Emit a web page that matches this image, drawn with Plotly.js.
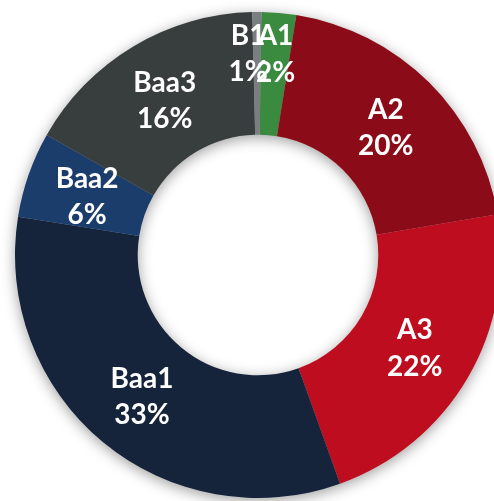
<!DOCTYPE html>
<html>
<head>
<meta charset="utf-8">
<script src="https://cdn.plot.ly/plotly-3.0.1.min.js"></script>
<style>
  html, body { margin: 0; padding: 0; background: #ffffff; overflow: hidden; width: 494px; height: 501px; }
  #chart { width: 516px; height: 501px; filter: drop-shadow(0px 3px 7px rgba(0,0,0,0.38)); }
</style>
</head>
<body>
<div id="chart"></div>
<script>
const ratings = ["A1", "A2", "A3", "Baa1", "Baa2", "Baa3", "B1"];
const shares = [2.3, 19.8, 22.2, 33.0, 5.7, 16.4, 0.6];
const sliceColors = ["#3a8a3f", "#8b0c18", "#be0d1f", "#15243b", "#1b3d6b", "#383d3e", "#7a7e80"];

const tmpl = "%{label}<br>%{percent:.0%}";
const font = { family: "Lato, 'Open Sans', sans-serif", size: 28, color: "#ffffff", weight: "bold" };
const ROT = 0.8;

// labels of the wide slices sit on the ring itself; the narrow ones are carried by
// transparent, slightly smaller copies of the ring so they land where the reference has them
const labelPlacement = {
  "A1":   { scale: 0.897, rotation: ROT },
  "Baa2": { scale: 0.878, rotation: ROT },
  "B1":   { scale: 0.852, rotation: -1.7 }
};

function baseTrace() {
  return {
    type: "pie",
    labels: ratings,
    values: shares,
    sort: false,
    direction: "clockwise",
    hole: 0.495,
    textposition: "inside",
    insidetextorientation: "horizontal",
    textfont: font,
    hoverinfo: "none",
    showlegend: false
  };
}

const ring = Object.assign(baseTrace(), {
  rotation: ROT,
  marker: { colors: sliceColors, line: { width: 0 } },
  texttemplate: ratings.map(r => labelPlacement[r] ? "" : tmpl)
});

const labelLayers = Object.keys(labelPlacement).map(name => {
  const p = labelPlacement[name];
  const lo = 0.5 - p.scale / 2, hi = 0.5 + p.scale / 2;
  return Object.assign(baseTrace(), {
    rotation: p.rotation,
    domain: { x: [lo, hi], y: [lo, hi] },
    marker: { colors: ratings.map(() => "rgba(0,0,0,0)"), line: { width: 0 } },
    texttemplate: ratings.map(r => r === name ? tmpl : "")
  });
});

const layout = {
  width: 516,
  height: 501,
  margin: { l: 15, r: 15, t: 12, b: 3 },
  paper_bgcolor: "rgba(0,0,0,0)",
  plot_bgcolor: "rgba(0,0,0,0)",
  uniformtext: { mode: "show", minsize: 28 },
  showlegend: false
};

Plotly.newPlot("chart", [ring].concat(labelLayers), layout, { staticPlot: true, displayModeBar: false });
</script>
</body>
</html>
